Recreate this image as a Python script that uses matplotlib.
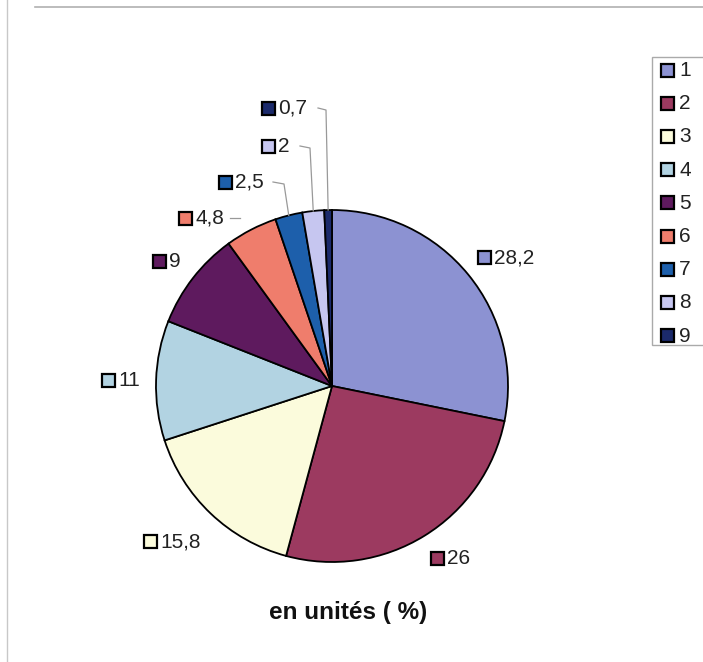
import matplotlib
matplotlib.use("Agg")
import matplotlib.pyplot as plt
from matplotlib.patches import Rectangle
import numpy as np

categories = ["1", "2", "3", "4", "5", "6", "7", "8", "9"]
values = [28.2, 26, 15.8, 11, 9, 4.8, 2.5, 2, 0.7]
value_labels = ["28,2", "26", "15,8", "11", "9", "4,8", "2,5", "2", "0,7"]
colors = ["#8c92d2", "#9c3a60", "#fbfbdc", "#b2d3e2", "#5e1a5e",
          "#ef7d6c", "#1d5fab", "#c6c6f0", "#1b2a6b"]
title = "en unités ( %)"

W, H = 703, 662
plt.rcParams['font.family'] = ['Liberation Sans', 'DejaVu Sans']
fig = plt.figure(figsize=(W / 100, H / 100), dpi=100)
ax = fig.add_axes([0, 0, 1, 1])

def Y(py):
    return H - py

cx, cy, r = 332, 386, 176
ax.pie(values, colors=colors, startangle=90, counterclock=False,
       center=(cx, Y(cy)), radius=r, frame=True,
       wedgeprops=dict(edgecolor="black", linewidth=1.3))
ax.set_xlim(0, W)
ax.set_ylim(0, H)
ax.axis("off")

# label positions (marker left x, center y in pixel coords)
label_pos = [(478, 257), (431, 558), (144, 541), (102, 380), (153, 261),
             (179, 218), (219, 182), (262, 146), (262, 108)]
sq = 13
fs = 15
for (lx, ly), lab, col in zip(label_pos, value_labels, colors):
    ax.add_patch(Rectangle((lx, Y(ly) - sq / 2), sq, sq, facecolor=col,
                           edgecolor="black", linewidth=1.6, zorder=5))
    ax.text(lx + sq + 3, Y(ly) - 0.5, lab, fontsize=fs, va="center", ha="left",
            color="#222222", zorder=5)

# leader lines for small slices
cum = np.cumsum([0] + values)
def edge_pt(i, frac=0.5):
    a = np.deg2rad(90 - 3.6 * (cum[i] + frac * values[i]))
    return cx + r * np.cos(a), cy - r * np.sin(a)

ax.plot([230, 240], [Y(218), Y(218)], color="#999999", linewidth=0.9, zorder=4)
leaders = [
    (6, [(273, 182), (284, 184)]),
    (7, [(300, 146), (310, 148)]),
    (8, [(318, 108), (326, 110)]),
]
for i, pts in leaders:
    ex, ey = edge_pt(i)
    xs = [p[0] for p in pts] + [ex]
    ys = [Y(p[1]) for p in pts] + [Y(ey)]
    ax.plot(xs, ys, color="#999999", linewidth=0.9, zorder=4)

# legend (manual)
ax.add_patch(Rectangle((652, Y(345)), 80, 345 - 57, facecolor="white",
                       edgecolor="#aaaaaa", linewidth=1, zorder=3))
for k, (cat, col) in enumerate(zip(categories, colors)):
    ly = 70 + k * 33.2
    ax.add_patch(Rectangle((661, Y(ly) - 6.5), 13, 13, facecolor=col,
                           edgecolor="black", linewidth=1.6, zorder=5))
    ax.text(679, Y(ly) - 0.5, cat, fontsize=15, va="center", ha="left",
            color="#222222", zorder=5)

# frame lines
ax.plot([35, W], [Y(7), Y(7)], color="#b0b0b0", linewidth=1.2)
ax.plot([7, 7], [Y(0), Y(H)], color="#c8c8c8", linewidth=1.0)

ax.text(348, Y(612), title, fontsize=17.5, fontweight="bold", ha="center",
        va="center", color="#111111")

fig.savefig("out.png", dpi=100)
